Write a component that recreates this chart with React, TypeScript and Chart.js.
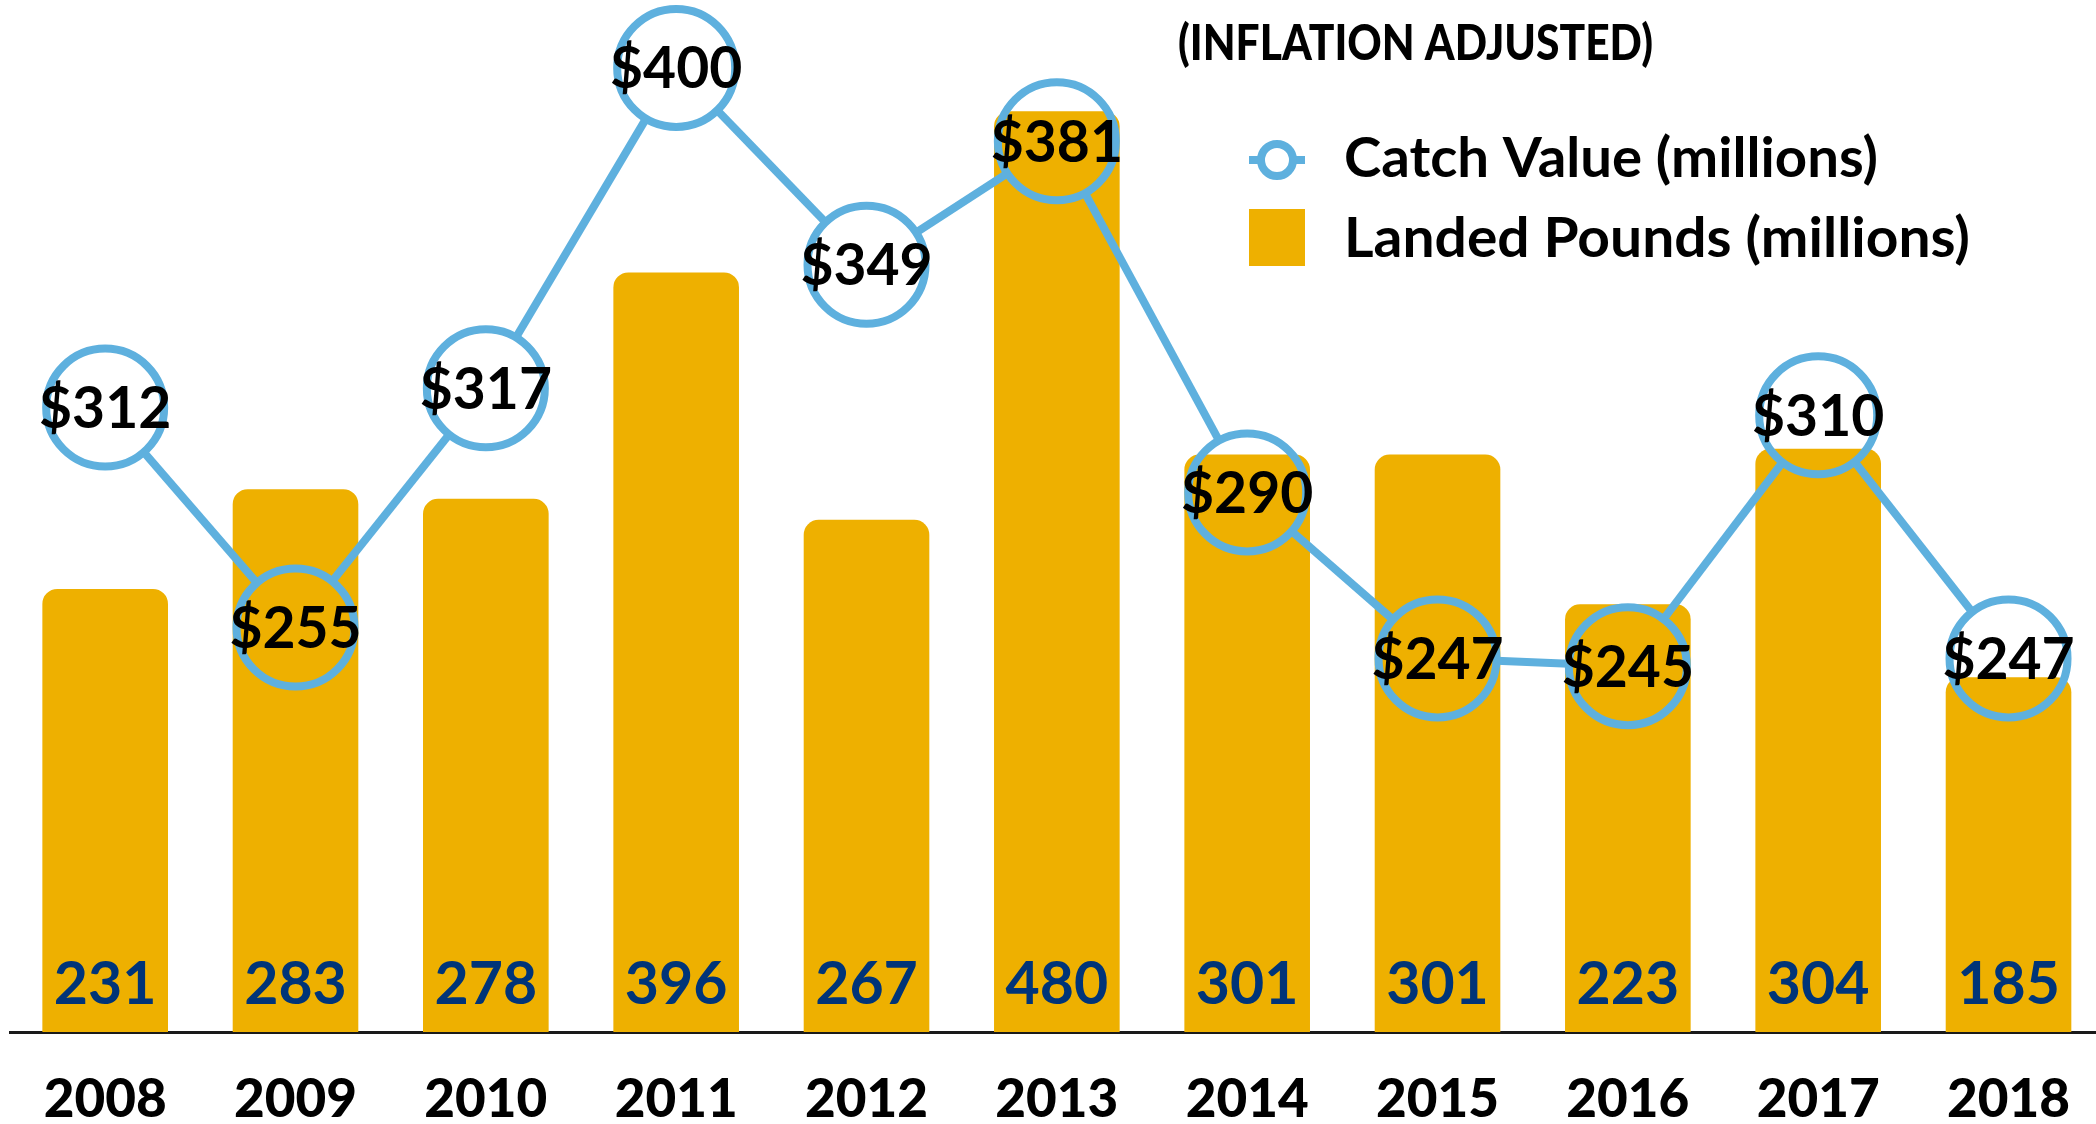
import React, { useEffect, useRef } from "react";
import { Chart, registerables } from "chart.js";

Chart.register(...registerables);

const years = ["2008", "2009", "2010", "2011", "2012", "2013", "2014", "2015", "2016", "2017", "2018"];
const landedPounds = [231, 283, 278, 396, 267, 480, 301, 301, 223, 304, 185];
const catchValue = [312, 255, 317, 400, 349, 381, 290, 247, 245, 310, 247];

const titleText = "(INFLATION ADJUSTED)";
const legendCatch = "Catch Value (millions)";
const legendPounds = "Landed Pounds (millions)";

const BAR_COLOR = "#EEB000";
const LINE_COLOR = "#5EB0DE";
const BAR_LABEL_COLOR = "#003478";

const POINT_R = 59;
const POINT_BW = 8;

function drawFitted(ctx: CanvasRenderingContext2D, text: string, x: number, y: number, width: number) {
  const m = ctx.measureText(text).width;
  const s = width / m;
  ctx.save();
  ctx.translate(x, y);
  ctx.scale(s, 1);
  ctx.textAlign = "left";
  ctx.textBaseline = "alphabetic";
  ctx.fillText(text, 0, 0);
  ctx.restore();
}

const segmentsPlugin = {
  id: "trimmedSegments",
  beforeDatasetDraw(chart: any, args: any) {
    if (args.index !== 0) return;
    const meta = chart.getDatasetMeta(0);
    const pts = meta.data;
    const ctx = chart.ctx;
    ctx.save();
    ctx.strokeStyle = LINE_COLOR;
    ctx.lineWidth = 8;
    ctx.lineCap = "butt";
    const r = POINT_R;
    for (let i = 0; i < pts.length - 1; i++) {
      const a = pts[i];
      const b = pts[i + 1];
      const dx = b.x - a.x;
      const dy = b.y - a.y;
      const len = Math.sqrt(dx * dx + dy * dy);
      if (len <= 2 * r) continue;
      const ux = dx / len;
      const uy = dy / len;
      ctx.beginPath();
      ctx.moveTo(a.x + ux * r, a.y + uy * r);
      ctx.lineTo(b.x - ux * r, b.y - uy * r);
      ctx.stroke();
    }
    ctx.restore();
  },
};

const labelsPlugin = {
  id: "valueLabels",
  afterDatasetsDraw(chart: any) {
    const ctx = chart.ctx;
    const barMeta = chart.getDatasetMeta(1);
    const lineMeta = chart.getDatasetMeta(0);
    const bottom = chart.chartArea.bottom;
    ctx.save();
    ctx.textAlign = "center";
    ctx.textBaseline = "alphabetic";
    ctx.font = "700 59px Lato";
    ctx.fillStyle = BAR_LABEL_COLOR;
    barMeta.data.forEach((bar: any, i: number) => {
      ctx.fillText(String(landedPounds[i]), bar.x, bottom - 28);
    });
    ctx.font = "700 57px Lato";
    ctx.fillStyle = "#000";
    ctx.textBaseline = "middle";
    lineMeta.data.forEach((pt: any, i: number) => {
      ctx.fillText("$" + catchValue[i], pt.x, pt.y + 2);
    });
    ctx.restore();
  },
};

const legendPlugin = {
  id: "customLegend",
  afterDraw(chart: any) {
    const ctx = chart.ctx;
    ctx.save();
    ctx.fillStyle = "#000";
    ctx.font = "900 49px Lato";
    drawFitted(ctx, titleText, 1178, 60, 475);

    // line marker
    ctx.strokeStyle = LINE_COLOR;
    ctx.lineWidth = 8;
    ctx.beginPath();
    ctx.moveTo(1249, 160);
    ctx.lineTo(1261, 160);
    ctx.moveTo(1293, 160);
    ctx.lineTo(1305, 160);
    ctx.stroke();
    ctx.beginPath();
    ctx.arc(1277, 160, 16, 0, Math.PI * 2);
    ctx.fillStyle = "#fff";
    ctx.fill();
    ctx.stroke();

    // bar marker
    ctx.fillStyle = BAR_COLOR;
    ctx.fillRect(1249, 209, 56, 57);

    ctx.fillStyle = "#000";
    ctx.font = "700 56px Lato";
    drawFitted(ctx, legendCatch, 1344, 177, 534);
    drawFitted(ctx, legendPounds, 1344, 257, 626);
    ctx.restore();
  },
};

export default function App() {
  const canvasRef = useRef<HTMLCanvasElement | null>(null);

  useEffect(() => {
    let chart: Chart | null = null;
    let cancelled = false;
    const fontsReady = (document as any).fonts
      ? Promise.all([
          (document as any).fonts.load("700 56px Lato"),
          (document as any).fonts.load("900 50px Lato"),
        ]).catch(() => null)
      : Promise.resolve(null);

    fontsReady.then(() => {
      if (cancelled || !canvasRef.current) return;
      chart = new Chart(canvasRef.current, {
        type: "bar",
        data: {
          labels: years,
          datasets: [
            {
              type: "line",
              label: legendCatch,
              data: catchValue,
              yAxisID: "y2",
              showLine: false,
              pointRadius: POINT_R,
              pointHoverRadius: POINT_R,
              pointBorderWidth: POINT_BW,
              pointBorderColor: LINE_COLOR,
              pointBackgroundColor: "rgba(0,0,0,0)",
              borderColor: LINE_COLOR,
              clip: false,
            } as any,
            {
              type: "bar",
              label: legendPounds,
              data: landedPounds,
              yAxisID: "y",
              backgroundColor: BAR_COLOR,
              borderRadius: { topLeft: 15, topRight: 15, bottomLeft: 0, bottomRight: 0 },
              borderSkipped: "bottom",
              barPercentage: 1,
              categoryPercentage: 0.66,
            } as any,
          ],
        },
        options: {
          responsive: false,
          devicePixelRatio: 1,
          animation: false,
          layout: { autoPadding: false, padding: { left: 10, right: 0, top: 0, bottom: 0 } },
          plugins: {
            legend: { display: false },
            tooltip: { enabled: false },
            title: { display: false },
          },
          events: [],
          scales: {
            x: {
              z: 1,
              grid: { display: false, drawTicks: false },
              border: { display: true, color: "#1a1a1a", width: 3 },
              ticks: {
                color: "#000",
                font: { family: "Lato", weight: "900", size: 53, lineHeight: 1.2 },
                padding: 36,
                maxRotation: 0,
                autoSkip: false,
              },
              afterFit: (scale: any) => {
                scale.height = 92;
              },
            },
            y: {
              display: false,
              min: 0,
              max: 538,
            },
            y2: {
              display: false,
              min: 150.2,
              max: 417.6,
            },
          },
        } as any,
        plugins: [segmentsPlugin, labelsPlugin, legendPlugin],
      });
    });

    return () => {
      cancelled = true;
      if (chart) chart.destroy();
    };
  }, []);

  return (
    <div
      style={{
        position: "fixed",
        left: 0,
        top: 0,
        width: 2096,
        height: 1124,
        overflow: "hidden",
        background: "#fff",
      }}
    >
      <canvas ref={canvasRef} width={2106} height={1124} style={{ display: "block" }} />
    </div>
  );
}
